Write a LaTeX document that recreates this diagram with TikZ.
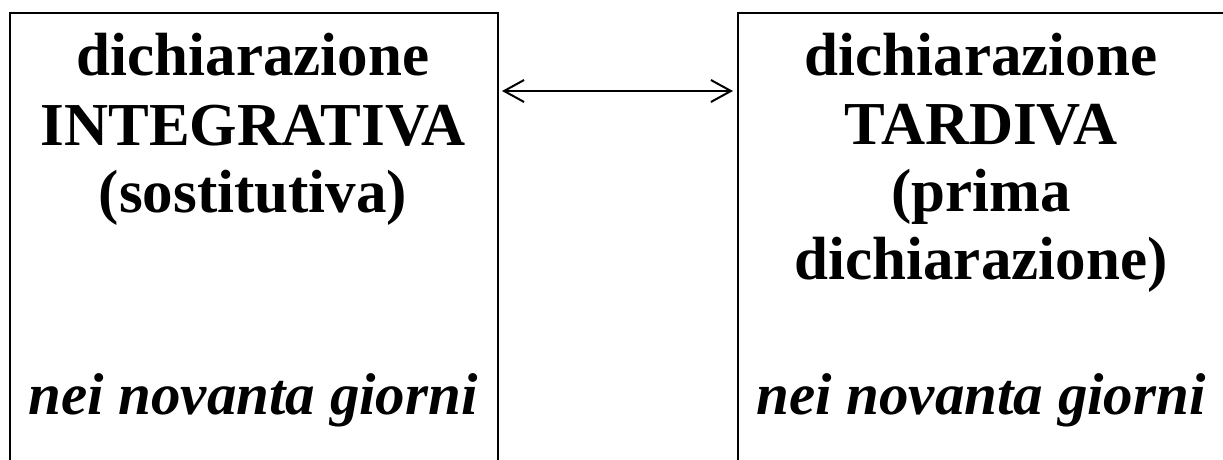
\documentclass[tikz,border=0pt]{standalone}
\usepackage{fontspec}
\setmainfont{Liberation Serif}
\usetikzlibrary{arrows.meta}
\tikzset{
  box/.style={draw=black, line width=2pt, minimum width=488pt, minimum height=560pt, inner sep=0pt, anchor=north west},
  txt/.style={anchor=base, inner sep=0pt, font=\fontsize{61}{68}\selectfont\bfseries},
  itxt/.style={anchor=base, inner sep=0pt, font=\fontsize{59}{68}\selectfont\bfseries\itshape},
  link/.style={line width=2pt, {Straight Barb[length=20pt,width=22pt]}-{Straight Barb[length=20pt,width=22pt]}}
}
\begin{document}
\begin{tikzpicture}[x=1pt,y=-1pt]
\useasboundingbox (0,0) rectangle (1223,460);
\clip (0,0) rectangle (1223,460);
\node[box] (L) at (9,12) {};
\node[box] (R) at (737,12) {};
\node[txt] (l1) at (253,75) {dichiarazione};
\node[txt] (l2) at (253,145) {INTEGRATIVA};
\node[txt] (l3) at (253,212) {(sostitutiva)};
\node[itxt] (l4) at (253,414) {nei novanta giorni};
\node[txt] (r1) at (981,75) {dichiarazione};
\node[txt] (r2) at (981,144) {TARDIVA};
\node[txt] (r3) at (981,211) {(prima};
\node[txt] (r4) at (981,279) {dichiarazione)};
\node[itxt] (r5) at (981,414) {nei novanta giorni};
\coordinate (a) at (0,91);
\draw[link] ([xshift=3pt]L.east |- a) -- ([xshift=-4pt]R.west |- a);
\end{tikzpicture}
\end{document}
